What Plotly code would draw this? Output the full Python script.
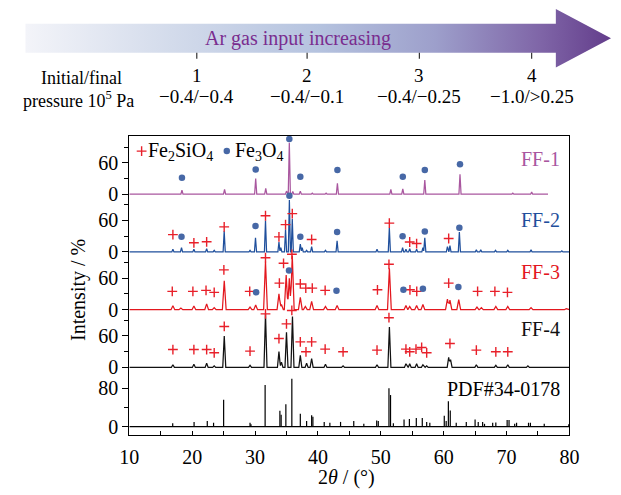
import plotly.graph_objects as go

# ---------------- data ----------------
x_tick_vals = [10, 20, 30, 40, 50, 60, 70, 80]
x_minor_vals = [15, 25, 35, 45, 55, 65, 75]

# FF-1 (2theta, intensity %)
ff1_pos = [18.37, 25.15, 30.1, 31.7, 35.0, 35.45, 36.0, 37.2, 39.1, 41.3, 43.1,
           51.6, 53.5, 57.0, 62.6, 71.0, 74.0]
ff1_int = [8, 9, 30, 11, 6, 98, 5, 6, 2, 2, 21, 9, 10, 27, 38, 2, 4]
ff1_end = 76.6
ff1_circ_x = [18.37, 30.1, 35.45, 37.2, 43.1, 53.5, 57.0, 62.6]
ff1_circ_y = [31.6, 47, 105, 33.5, 46, 33.5, 46, 57]

# FF-2
ff2_pos = [16.93, 18.3, 20.27, 22.3, 23.5, 25.09, 29.2, 30.07, 31.66, 33.8, 34.1,
           34.85, 35.46, 35.92, 37.2, 37.5, 38.2, 39.0, 41.2, 43.05, 49.4, 51.36,
           53.47, 54.0, 54.6, 55.7, 56.7, 57.0, 60.6, 61.0, 62.5, 65.2, 65.9,
           68.25, 70.2, 73.9, 78.8]
ff2_int = [5, 8, 5, 6, 3, 40, 3, 27, 60, 19, 8, 43, 99, 63, 15, 8, 3, 10, 3, 21,
           5, 46, 8, 5, 6, 5, 8, 27, 10, 12, 38, 4, 4, 3, 3, 4, 2]
ff2_plus_x = [16.93, 20.27, 22.3, 25.09, 31.66, 33.8, 34.85, 35.92, 39.0, 51.36,
              54.6, 55.7, 60.8]
ff2_plus_y = [33, 17.4, 19.3, 47.7, 69, 28.8, 52, 73, 23.7, 55, 19, 16, 25.6]
ff2_circ_x = [18.3, 30.07, 35.46, 37.2, 43.05, 53.47, 57.0, 62.5]
ff2_circ_y = [29, 49.6, 107, 29, 38, 30, 39, 46]

# FF-3
ff3_pos = [16.93, 18.2, 20.27, 22.3, 23.5, 25.1, 29.2, 30.1, 31.66, 33.8, 34.2,
           34.95, 35.45, 35.92, 37.2, 38.0, 39.0, 41.2, 43.05, 49.4, 51.37, 54.0,
           54.6, 55.7, 56.7, 60.6, 61.0, 62.4, 65.3, 66.0, 68.3, 70.2, 73.9, 79.5]
ff3_int = [7.5, 3, 7, 11, 4, 55, 5, 9, 92, 30, 10, 66, 60, 103, 23.5, 6, 16, 6,
           8, 8, 79, 8, 6, 8, 10, 20, 18, 19, 5, 4, 6, 6, 4, 2]
ff3_plus_x = [16.83, 20.11, 22.2, 23.5, 25.04, 29.15, 31.66, 33.87, 34.53, 35.86,
              37.2, 38.07, 39.1, 41.15, 49.47, 51.3, 54.64, 55.72, 60.8, 65.4,
              68.15, 70.15]
ff3_plus_y = [34.8, 34.8, 36.7, 33, 75.8, 34.8, 99, 50.6, 88.4, 105.5, 49, 41,
              41, 36.7, 37.9, 86.5, 37.9, 34.8, 50.6, 34.8, 34.8, 33]
ff3_circ_x = [30.17, 35.4, 42.95, 53.6, 56.7, 62.34]
ff3_circ_y = [33, 74.6, 36, 37.9, 39.8, 43]

# FF-4
ff4_pos = [16.93, 20.27, 22.3, 23.5, 25.1, 29.2, 31.66, 33.8, 34.2, 35.0, 35.95,
           37.2, 38.2, 39.0, 41.2, 44.0, 49.4, 51.37, 54.0, 54.6, 55.7, 56.7,
           57.3, 60.8, 61.1, 65.2, 68.3, 70.2, 73.4]
ff4_int = [5, 6, 8, 3, 60, 4, 102, 30, 10, 67, 97, 23, 8, 17, 6, 3, 5, 77, 7, 7,
           7, 5, 3, 19, 15, 5, 4, 5, 3]
ff4_plus_x = [16.93, 20.27, 22.3, 23.5, 25.1, 29.2, 31.66, 33.8, 35.0, 35.85,
              37.2, 38.1, 39.0, 41.15, 44.0, 49.4, 51.3, 54.0, 54.6, 55.6, 56.5,
              57.3, 61.0, 65.2, 68.3, 70.2]
ff4_plus_y = [34, 34, 34, 27.8, 78, 31, 102, 55, 83, 108.5, 48.7, 29.7, 48.7,
              34.8, 29.7, 33, 94.7, 34.8, 29.7, 34.8, 38, 27.8, 45.5, 33, 29.7,
              29.7]

# PDF#34-0178 stick pattern
pdf_pos = [16.9, 20.3, 22.4, 23.4, 25.0, 29.2, 29.35, 31.6, 33.95, 34.15, 34.9,
           35.85, 37.2, 38.2, 39.0, 39.2, 41.0, 41.9, 43.6, 45.7, 47.3, 49.35,
           49.6, 51.3, 51.55, 52.0, 53.7, 54.55, 55.65, 56.6, 57.3, 57.8, 60.1,
           60.4, 60.75, 61.05, 62.0, 63.6, 65.0, 65.5, 66.2, 66.5, 67.8, 68.3,
           70.1, 70.4, 71.3, 71.6, 73.5, 73.8, 76.0, 79.9]
pdf_int = [7, 10, 12, 8, 56, 8, 5, 87, 33, 25, 47, 100, 27, 12, 24, 21, 10, 8,
           10, 12, 6, 13, 12, 80, 66, 7, 15, 16, 18, 18, 10, 8, 23, 12, 53, 34,
           8, 10, 15, 10, 10, 6, 8, 9, 14, 14, 6, 8, 8, 8, 6, 5]

# panel tick labels
ff_tick_labels = ["0", "60"]
pdf_tick_labels = ["0", "80"]

# top scale
step_labels = ["1", "2", "3", "4"]
pressure_labels = ["\u22120.4/\u22120.4", "\u22120.4/\u22120.1",
                   "\u22120.4/\u22120.25", "\u22121.0/>0.25"]

# ---------------- styling / layout constants ----------------
W, H = 621, 495
FONT = "Liberation Serif, Times New Roman, serif"
C_FF1 = "#a9579f"
C_FF2 = "#1f4f9c"
C_FF3 = "#e3171e"
C_FF4 = "#111111"
C_PLUS = "#e8202a"
C_CIRC = "#4768a6"

off = {"PDF": 0.0, "FF-4": 113.0, "FF-3": 223.0, "FF-2": 333.0, "FF-1": 443.0}
pdf_scale = 0.914
y_lo, y_hi = -15.9, 554.2

# plot box in page pixels
PL, PR, PT, PB = 123.3, 578.0, 136.7, 437.7


def profile(pos, ints, hw, x0, x1):
    keys = {x0, x1}
    for p in pos:
        keys.update([p - hw, p, p + hw])
    xs = sorted(k for k in keys if x0 <= k <= x1)
    ys = []
    for x in xs:
        s = 0.0
        for p, h in zip(pos, ints):
            d = abs(x - p)
            if d < hw:
                s += h * (1 - d / hw)
        ys.append(s)
    return xs, ys


fig = go.Figure()

series = [
    ("FF-1", ff1_pos, ff1_int, 0.17, ff1_end, C_FF1),
    ("FF-2", ff2_pos, ff2_int, 0.17, 80.0, C_FF2),
    ("FF-3", ff3_pos, ff3_int, 0.30, 80.0, C_FF3),
    ("FF-4", ff4_pos, ff4_int, 0.24, 80.0, C_FF4),
]
for name, pos, ints, hw, xend, col in series:
    xs, ys = profile(pos, ints, hw, 10.0, xend)
    fig.add_trace(go.Scatter(x=xs, y=[off[name] + v for v in ys], mode="lines",
                             line=dict(color=col, width=1.25), name=name,
                             hoverinfo="skip"))

# PDF sticks
sx, sy = [], []
for p, h in zip(pdf_pos, pdf_int):
    sx += [p, p, None]
    sy += [off["PDF"], off["PDF"] + h * pdf_scale, None]
fig.add_trace(go.Scatter(x=sx, y=sy, mode="lines",
                         line=dict(color="black", width=1.2), hoverinfo="skip"))
fig.add_trace(go.Scatter(x=[10, 80], y=[off["PDF"], off["PDF"]], mode="lines",
                         line=dict(color="black", width=1.2), hoverinfo="skip"))

plus_marker = dict(symbol="cross-thin", size=7, line=dict(color=C_PLUS, width=1.4),
                   color=C_PLUS)
circ_marker = dict(symbol="circle", size=6.5, color=C_CIRC)

for name, px_, py_ in [("FF-2", ff2_plus_x, ff2_plus_y),
                       ("FF-3", ff3_plus_x, ff3_plus_y),
                       ("FF-4", ff4_plus_x, ff4_plus_y)]:
    fig.add_trace(go.Scatter(x=px_, y=[off[name] + v for v in py_], mode="markers",
                             marker=plus_marker, cliponaxis=False, hoverinfo="skip"))
for name, cx_, cy_ in [("FF-1", ff1_circ_x, ff1_circ_y),
                       ("FF-2", ff2_circ_x, ff2_circ_y),
                       ("FF-3", ff3_circ_x, ff3_circ_y)]:
    fig.add_trace(go.Scatter(x=cx_, y=[off[name] + v for v in cy_], mode="markers",
                             marker=circ_marker, cliponaxis=False, hoverinfo="skip"))

# ---------------- top decoration on a pixel-space overlay axis ----------------
fig.add_trace(go.Scatter(
    x=[16, 564, 564, 621, 564, 564, 16, 16],
    y=[24, 24, 9, 38.5, 68, 53, 53, 24],
    xaxis="x2", yaxis="y2", mode="lines", fill="toself",
    line=dict(width=0, color="rgba(0,0,0,0)"),
    fillgradient=dict(type="horizontal",
                      colorscale=[[0.0, "#f3f4f9"], [0.25, "#d3dbeb"],
                                  [0.5, "#b5c3df"], [0.7, "#9d9fcb"],
                                  [0.88, "#7f65a7"], [1.0, "#633d8b"]]),
    hoverinfo="skip"))

# legend glyphs
fig.add_trace(go.Scatter(x=[136], y=[152], xaxis="x2", yaxis="y2", mode="markers",
                         marker=plus_marker, hoverinfo="skip"))
fig.add_trace(go.Scatter(x=[224], y=[152], xaxis="x2", yaxis="y2", mode="markers",
                         marker=circ_marker, hoverinfo="skip"))

step_x = [193, 307, 423, 539]
shapes = []
for sxp in step_x:
    shapes.append(dict(type="line", xref="x2", yref="y2", x0=sxp, x1=sxp, y0=53,
                       y1=59, line=dict(color="#333333", width=1.2)))

ann = []


def A(text, x, y, size=19, color="black", xanchor="center", **kw):
    ann.append(dict(text=text, x=x, y=y, xref="x2", yref="y2", showarrow=False,
                    xanchor=xanchor, yanchor="middle",
                    font=dict(family=FONT, size=size, color=color), **kw))


A("Ar gas input increasing", 298, 39, size=20, color="#7a2d8f")
for sxp, lab, pl in zip(step_x, step_labels, pressure_labels):
    A(lab, sxp, 76, size=19)
    A(pl, sxp, 97, size=19)
A("Initial/final", 74, 78, size=18)
A("pressure 10<sup>5</sup> Pa", 71, 100, size=18)

A("Fe<sub>2</sub>SiO<sub>4</sub>", 141, 152, size=20, xanchor="left")
A("Fe<sub>3</sub>O<sub>4</sub>", 230, 152, size=20, xanchor="left")

A("FF-1", 548, 160, size=20, color=C_FF1)
A("FF-2", 548, 221, size=20, color=C_FF2)
A("FF-3", 548, 274, size=20, color=C_FF3)
A("FF-4", 548, 331, size=20, color=C_FF4)
A("PDF#34-0178", 570, 391, size=20, xanchor="right")

A("Intensity / %", 70, 292, size=20, textangle=-90)
A("2<i>θ</i> / (°)", 348, 480, size=20)

# y ticks
y_tickvals, y_ticktext = [], []
y_minor = []
for name in ["FF-4", "FF-3", "FF-2", "FF-1"]:
    y_tickvals += [off[name], off[name] + 60]
    y_ticktext += ff_tick_labels
    y_minor += [off[name] + 30, off[name] + 90]
y_tickvals = [off["PDF"], off["PDF"] + 80 * pdf_scale] + y_tickvals
y_ticktext = pdf_tick_labels + y_ticktext
y_minor = [off["PDF"] + 40 * pdf_scale] + y_minor

fig.update_layout(
    width=W, height=H, margin=dict(l=0, r=0, t=0, b=0),
    paper_bgcolor="white", plot_bgcolor="rgba(0,0,0,0)",
    showlegend=False,
    font=dict(family=FONT, size=18, color="black"),
    xaxis=dict(domain=[PL / W, PR / W], range=[10, 80],
               tickmode="array",
               tickvals=x_tick_vals, ticks="inside", ticklen=4, tickwidth=1.1,
               tickcolor="black",
               minor=dict(tickmode="array", tickvals=x_minor_vals, ticks="inside",
                          ticklen=4, tickwidth=1.1, tickcolor="black"),
               showline=True, linecolor="black", linewidth=1.3, mirror=True,
               showgrid=False, zeroline=False, anchor="y",
               tickfont=dict(family=FONT, size=20), ticklabelstandoff=4),
    yaxis=dict(domain=[(H - PB) / H, (H - PT) / H], range=[y_lo, y_hi],
               tickmode="array", tickvals=y_tickvals, ticktext=y_ticktext,
               ticks="outside", ticklen=6, tickwidth=1.1, tickcolor="black",
               minor=dict(tickmode="array", tickvals=y_minor, ticks="outside",
                          ticklen=4, tickwidth=1.1, tickcolor="black"),
               showline=True, linecolor="black", linewidth=1.3, mirror=True,
               showgrid=False, zeroline=False, anchor="x",
               tickfont=dict(family=FONT, size=20)),
    xaxis2=dict(domain=[0, 1], range=[0, W], visible=False, anchor="y2",
                fixedrange=True),
    yaxis2=dict(domain=[0, 1], range=[H, 0], visible=False, anchor="x2",
                fixedrange=True),
    shapes=shapes, annotations=ann,
)

fig.write_html(
    "out.html",
    config={"displayModeBar": False},
    post_script="document.body.style.margin='0';document.body.style.padding='0';",
)
